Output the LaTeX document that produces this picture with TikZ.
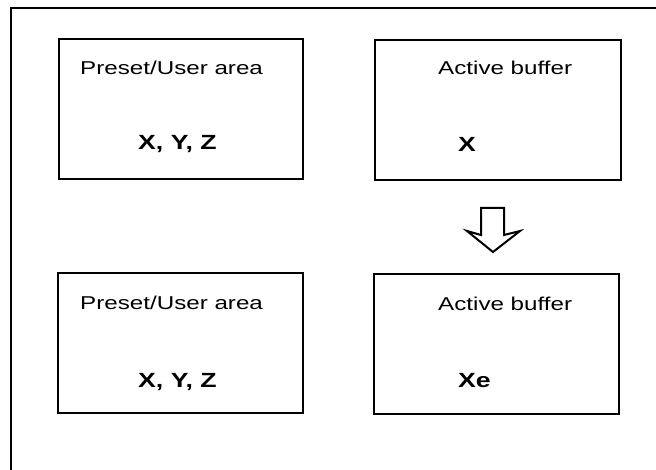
\documentclass[tikz,border=0pt]{standalone}
\usepackage{fontspec}
\newfontfamily\lab[FakeStretch=1.3]{Liberation Sans}
\begin{document}
\begin{tikzpicture}[x=1pt,y=-1pt,
  box/.style={draw,line width=1.6pt},
  lbl/.style={font=\lab\fontsize{18.6}{20}\selectfont,anchor=base west,inner sep=0pt},
  val/.style={font=\lab\bfseries\fontsize{20.5}{22}\selectfont,anchor=base west,inner sep=0pt}]
\useasboundingbox (0,0) rectangle (656,470);
\draw[line width=1.8pt] (11,470) -- (11,8) -- (656,8);
% boxes
\draw[box] (59,39) rectangle (303,179);
\draw[box] (375,40) rectangle (621,180);
\draw[box] (58,273) rectangle (303,413);
\draw[box] (374,274) rectangle (619,414);
\node[lbl] (t1) at (80,75) {Preset/User area};
\node[val] (v1) at (138,150) {X, Y, Z};
\node[lbl] (t2) at (438,75) {Active buffer};
\node[val] (v2) at (458,152) {X};
\node[lbl] (t3) at (80,310) {Preset/User area};
\node[val] (v3) at (138,387) {X, Y, Z};
\node[lbl] (t4) at (438,311) {Active buffer};
\node[val] (v4) at (458,387) {Xe};
% hollow arrow
\draw[line width=2pt,line join=miter] (481,208) -- (504,208) -- (504,235) -- (520,231) -- (493,252) -- (467,231) -- (481,235) -- cycle;
\end{tikzpicture}
\end{document}
